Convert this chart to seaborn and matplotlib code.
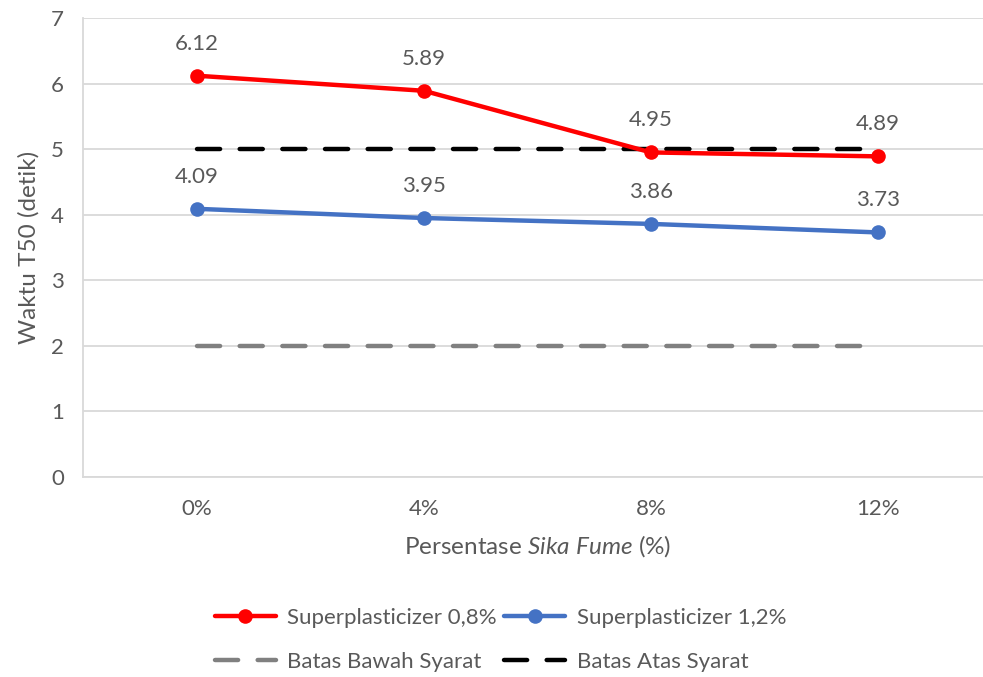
import matplotlib
matplotlib.use("Agg")
import matplotlib.pyplot as plt
import seaborn as sns
import pandas as pd

categories = ["0%", "4%", "8%", "12%"]
sp08 = [6.12, 5.89, 4.95, 4.89]
sp12 = [4.09, 3.95, 3.86, 3.73]
batas_bawah = [2, 2, 2, 2]
batas_atas = [5, 5, 5, 5]
y_ticks = [0, 1, 2, 3, 4, 5, 6, 7]

sns.set_theme(style="white")
FONT = "Lato"
plt.rcParams["font.family"] = [FONT, "DejaVu Sans"]
plt.rcParams["mathtext.fontset"] = "custom"
plt.rcParams["mathtext.rm"] = FONT
plt.rcParams["mathtext.it"] = FONT + ":italic"

TXT = "#595959"
GRID = "#d9d9d9"
FS = 16
FS_LAB = 17.5

fig = plt.figure(figsize=(9.83, 6.77), dpi=100)
ax = fig.add_axes([0.0849, 0.2954, 0.9237, 0.678])

pos = list(range(len(categories)))
df = pd.DataFrame({"x": pos * 4,
                   "y": batas_bawah + batas_atas + sp08 + sp12,
                   "s": ["Batas Bawah Syarat"] * 4 + ["Batas Atas Syarat"] * 4
                        + ["Superplasticizer 0,8%"] * 4 + ["Superplasticizer 1,2%"] * 4})

dash = dict(lw=3.2, dashes=(5.2, 4.4), dash_capstyle="round", solid_capstyle="round")
sns.lineplot(data=df[df.s == "Batas Bawah Syarat"], x="x", y="y", color="#808080",
             ax=ax, label="Batas Bawah Syarat", **dash)
sns.lineplot(data=df[df.s == "Batas Atas Syarat"], x="x", y="y", color="#000000",
             ax=ax, label="Batas Atas Syarat", **dash)
sns.lineplot(data=df[df.s == "Superplasticizer 0,8%"], x="x", y="y", color="#ff0000",
             lw=3.2, marker="o", markersize=10.5, markeredgewidth=0, ax=ax,
             label="Superplasticizer 0,8%", solid_capstyle="round")
sns.lineplot(data=df[df.s == "Superplasticizer 1,2%"], x="x", y="y", color="#4472c4",
             lw=3.2, marker="o", markersize=10.5, markeredgewidth=0, ax=ax,
             label="Superplasticizer 1,2%", solid_capstyle="round")

for vals in (sp08, sp12):
    for xi, v in zip(pos, vals):
        ax.annotate(f"{v:.2f}", (xi, v), xytext=(0, 23), textcoords="offset points",
                    ha="center", va="center", fontsize=FS, color=TXT)

ax.set_xlim(-0.5, len(categories) - 0.5)
ax.set_ylim(0, 7)
ax.set_xticks(pos)
ax.set_xticklabels(categories)
ax.set_yticks(y_ticks)
ax.tick_params(axis="both", labelsize=FS, colors=TXT, length=0)
ax.tick_params(axis="x", pad=16)
ax.tick_params(axis="y", pad=14)
ax.grid(axis="y", color=GRID, lw=1.3)
ax.set_axisbelow(True)
for s in ["top", "right"]:
    ax.spines[s].set_visible(False)
for s in ["left", "bottom"]:
    ax.spines[s].set_color(GRID)
    ax.spines[s].set_linewidth(1.3)

ax.set_ylabel("Waktu T50 (detik)", fontsize=FS_LAB, color=TXT, labelpad=8)
ax.set_xlabel(r"Persentase $Sika\ Fume$ (%)", fontsize=FS_LAB, color=TXT, labelpad=10)

h, l = ax.get_legend_handles_labels()
order = [2, 0, 3, 1]
leg = ax.legend([h[i] for i in order], [l[i] for i in order], ncol=2,
                loc="center", frameon=False, fontsize=FS, handlelength=2.75,
                handletextpad=0.5, columnspacing=0.35, labelspacing=1.1, labelcolor=TXT)
leg.set_bbox_to_anchor((0.509, 1 - 640 / 677), transform=fig.transFigure)

fig.savefig("out.png", dpi=100)
